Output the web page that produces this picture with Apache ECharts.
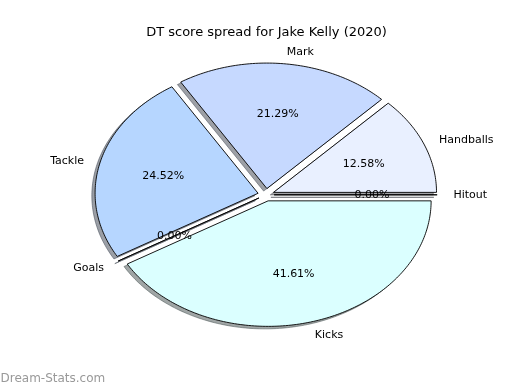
<!DOCTYPE html>
<html><head><meta charset="utf-8">
<script src="https://cdn.jsdelivr.net/npm/echarts@6/dist/echarts.min.js"></script>
<style>html,body{margin:0;padding:0;background:#fff}#c{width:520px;height:390px}</style>
</head><body><div id="c"></div>
<script>
// ---- data ----
const categories = ['Handballs', 'Mark', 'Tackle', 'Goals', 'Kicks', 'Hitout'];
const shares = [12.58, 21.29, 24.52, 0.00, 41.61, 0.00];
const titleText = 'DT score spread for Jake Kelly (2020)';
const watermarkText = 'Dream-Stats.com';

// ---- style / layout ----
const sliceColors = ['#e9f0ff', '#c6d9ff', '#b6d6ff', '#c8e0ff', '#dbffff', '#e0ecff'];
const FONT = 'DejaVu Sans';
const CX = 266, CY = 194.8, RX = 163, RY = 125.5;
const EXPLODE = 0.05, LABEL_D = 1.1, PCT_D = 0.6;
const TEXT_DY = 0.8;
const SH_DX = -0.02 * RX, SH_DY = 0.02 * RY;

const total = shares.reduce((a, b) => a + b, 0);

function hexToRgb(h) {
  const n = parseInt(h.slice(1), 16);
  return [(n >> 16) & 255, (n >> 8) & 255, n & 255];
}

function renderItem(params, api) {
  const i = params.dataIndex;
  const v = api.value(0);
  let before = 0;
  for (let k = 0; k < i; k++) before += shares[k];
  const t1 = before / total * 2 * Math.PI;
  const t2 = (before + v) / total * 2 * Math.PI;
  const tm = (t1 + t2) / 2;
  const c = Math.cos(tm), s = Math.sin(tm);
  const ox = CX + EXPLODE * RX * c, oy = CY - EXPLODE * RY * s;
  const pts = [[ox, oy]];
  const n = Math.max(1, Math.ceil((t2 - t1) / (Math.PI / 180)));
  for (let j = 0; j <= n; j++) {
    const t = t1 + (t2 - t1) * j / n;
    pts.push([ox + RX * Math.cos(t), oy - RY * Math.sin(t)]);
  }
  const shPts = pts.map(p => [p[0] + SH_DX, p[1] + SH_DY]);
  const rgb = hexToRgb(sliceColors[i]).map(x => Math.round(x * 0.3));
  const shColor = 'rgba(' + rgb.join(',') + ',0.5)';

  const lx = ox + LABEL_D * RX * c, ly = oy - LABEL_D * RY * s + TEXT_DY;
  const px = ox + PCT_D * RX * c, py = oy - PCT_D * RY * s + TEXT_DY;
  const labelAlign = (lx - CX) > 0 ? 'left' : 'right';

  return {
    type: 'group',
    children: [
      { type: 'polygon', z2: 0, shape: { points: shPts },
        style: { fill: shColor, stroke: shColor, lineWidth: 1 } },
      { type: 'polygon', z2: 10, shape: { points: pts },
        style: { fill: sliceColors[i], stroke: '#000', lineWidth: 0.9, lineJoin: 'miter' } },
      { type: 'text', z2: 20,
        style: { text: categories[i], x: lx, y: ly, fill: '#000', fontSize: 11, fontFamily: FONT,
                 align: labelAlign, verticalAlign: 'middle' } },
      { type: 'text', z2: 20,
        style: { text: (v / total * 100).toFixed(2) + '%', x: px, y: py, fill: '#000', fontSize: 11,
                 fontFamily: FONT, align: 'center', verticalAlign: 'middle' } }
    ]
  };
}

const chart = echarts.init(document.getElementById('c'), null, { renderer: 'canvas' });
chart.setOption({
  animation: false,
  backgroundColor: '#fff',
  title: [
    { text: titleText, left: 261.5, top: 21, textAlign: 'center',
      textStyle: { fontFamily: FONT, fontSize: 13, fontWeight: 'normal', color: '#000' } },
    { text: watermarkText, left: 0.5, top: 373, padding: 0,
      textStyle: { fontFamily: FONT, fontSize: 12, fontWeight: 'normal', color: '#999999' } }
  ],
  series: [{
    type: 'custom',
    coordinateSystem: 'none',
    renderItem: renderItem,
    data: shares.map(v => [v])
  }]
});
</script>
</body></html>
